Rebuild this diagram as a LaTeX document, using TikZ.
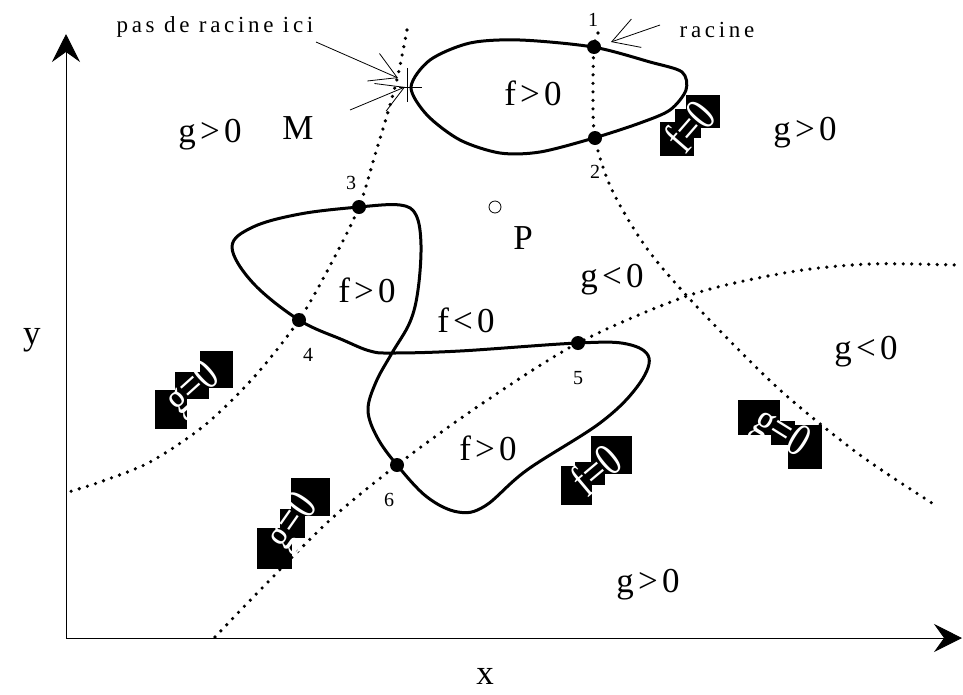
\documentclass[tikz,border=0pt]{standalone}
\usepackage{fontspec}
\setmainfont{Liberation Serif}
\usepackage{graphicx}
\usetikzlibrary{arrows.meta}
\begin{document}
\begin{tikzpicture}[x=1pt,y=-1pt,
  loopline/.style={line width=3pt, line join=round},
  dots/.style={line width=3.6pt, line cap=round, dash pattern=on 0pt off 8.5pt},
  axis/.style={line width=1pt, -{Stealth[length=28pt,width=28pt,inset=10pt]}},
  big/.style={font=\fontsize{35}{35}\selectfont\addfontfeatures{LetterSpace=12}, inner sep=0pt},
  small/.style={font=\fontsize{23}{23}\selectfont\addfontfeatures{LetterSpace=16}, inner sep=0pt},
  num/.style={font=\fontsize{20}{20}\selectfont, inner sep=0pt},
  rootpt/.style={circle, fill=black, inner sep=0pt, minimum size=14pt},
  barb/.style={line width=0.8pt, -{Straight Barb[length=26pt,width=30pt]}},
  invtext/.style={text=white, font=\fontsize{36}{36}\selectfont, inner sep=0pt}
]
\useasboundingbox (0,0) rectangle (963,694);
% axes
\coordinate (O) at (66,638);
\coordinate (Ytop) at (66,34);
\coordinate (Xend) at (962,638);
\draw[axis] (O) -- (Ytop);
\draw[axis] (O) -- (Xend);
\node[big] (ylab) at (32,340) {y};
\node[big] (xlab) at (485,676) {x};

% dotted curves
\draw[dots] plot[smooth] coordinates {(407,30) (398,75) (388,112) (375,155) (359,207) (332,262) (299,320) (255,376) (205,425) (150,462) (100,482) (65,493)};
\draw[dots] plot[smooth] coordinates {(598,33) (594,47) (593,90) (595,138) (612,190) (648,250) (700,310) (780,390) (860,455) (935,505)};
\draw[dots] plot[smooth] coordinates {(215,637) (265,585) (330,520) (397,465) (480,405) (578,343) (690,295) (790,272) (870,264) (955,265)};

% top loop
\draw[loopline] plot[smooth cycle] coordinates {(411,87) (430,60) (470,43) (520,40) (593,47) (650,62) (682,72) (686,90) (670,110) (640,123) (594,138) (540,152) (500,153) (460,140) (427,115)};

% figure-eight loop
\draw[loopline] plot[smooth cycle, tension=0.6] coordinates {(359,207) (400,205) (416,215) (421,245) (418,290) (410,322) (392,353) (376,382) (368,410) (377,437) (397,465) (427,497) (458,512) (485,506) (527,470) (600,423) (637,387) (649,358) (627,344) (578,343) (460,351) (392,353) (370,351) (343,340) (299,320) (253,283) (232,247) (253,227) (300,214)};

% root points
\node[rootpt] (p1) at (594,47) {};
\node[rootpt] (p2) at (595,138) {};
\node[rootpt] (p3) at (359,207) {};
\node[rootpt] (p4) at (299,320) {};
\node[rootpt] (p5) at (578,343) {};
\node[rootpt] (p6) at (397,465) {};
\node[num] (n1) at (593,20) {1};
\node[num] (n2) at (595,172) {2};
\node[num] (n3) at (351,183) {3};
\node[num] (n4) at (308,355) {4};
\node[num] (n5) at (578,378) {5};
\node[num] (n6) at (389,500) {6};

% cross at M
\coordinate (cross) at (408,87);
\draw[line width=0.8pt] (407,68) -- (407,102);
\draw[line width=0.8pt] (399,87) -- (422,87);

% annotations
\node[small] (pas) at (215,27) {pas de racine ici};
\node[small] (rac) at (717,30) {racine};
\coordinate (pasA) at (316,42);
\coordinate (pasT) at (398,78);
\draw[barb] (pasA) -- (pasT);
\node[big] (M) at (298,128) {M};
\coordinate (MA) at (350,110);
\coordinate (MT) at (405,87);
\draw[barb] (MA) -- (MT);
\coordinate (racA) at (660,25);
\coordinate (racT) at (611,42);
\draw[barb] (racA) -- (racT);

% region labels
\node[big] (r1) at (210,135) {g>0};
\node[big] (r2) at (533,93) {f>0};
\node[big] (r3) at (805,133) {g>0};
\node[big] (P) at (523,238) {P};
\node[circle, draw, line width=0.8pt, inner sep=0pt, minimum size=12pt] (Pc) at (495,207) {};
\node[big] (r4) at (612,280) {g<0};
\node[big] (r5) at (367,290) {f>0};
\node[big] (r6) at (466,320) {f<0};
\node[big] (r7) at (866,352) {g<0};
\node[big] (r8) at (488,448) {f>0};
\node[big] (r9) at (648,585) {g>0};

% inverted rotated labels
\fill (686,95) rectangle (720,128);
\fill (675,109) rectangle (701,138);
\fill (660,122) rectangle (694,156);
\node[invtext, rotate=49] (L1) at (690,126) {\scalebox{1}[1.3]{f=0}};

\fill (200,351) rectangle (233,388);
\fill (175,372) rectangle (209,399);
\fill (155,390) rectangle (187,429);
\node[invtext, rotate=42] (L2) at (194,390) {\scalebox{1}[1.3]{g=0}};

\fill (291,478) rectangle (330,516);
\fill (280,509) rectangle (305,538);
\fill (257,528) rectangle (292,569);
\node[invtext, rotate=55] (L3) at (294,523) {\scalebox{1}[1.3]{g=0}};

\fill (591,436) rectangle (632,474);
\fill (575,462) rectangle (605,485);
\fill (561,466) rectangle (592,505);
\node[invtext, rotate=40] (L4) at (596,470) {\scalebox{1}[1.3]{f=0}};

\fill (738,400) rectangle (780,435);
\fill (771,421) rectangle (795,445);
\fill (788,425) rectangle (822,469);
\node[invtext, rotate=-32] (L5) at (780,434) {\scalebox{1}[1.3]{g=0}};
\end{tikzpicture}
\end{document}
